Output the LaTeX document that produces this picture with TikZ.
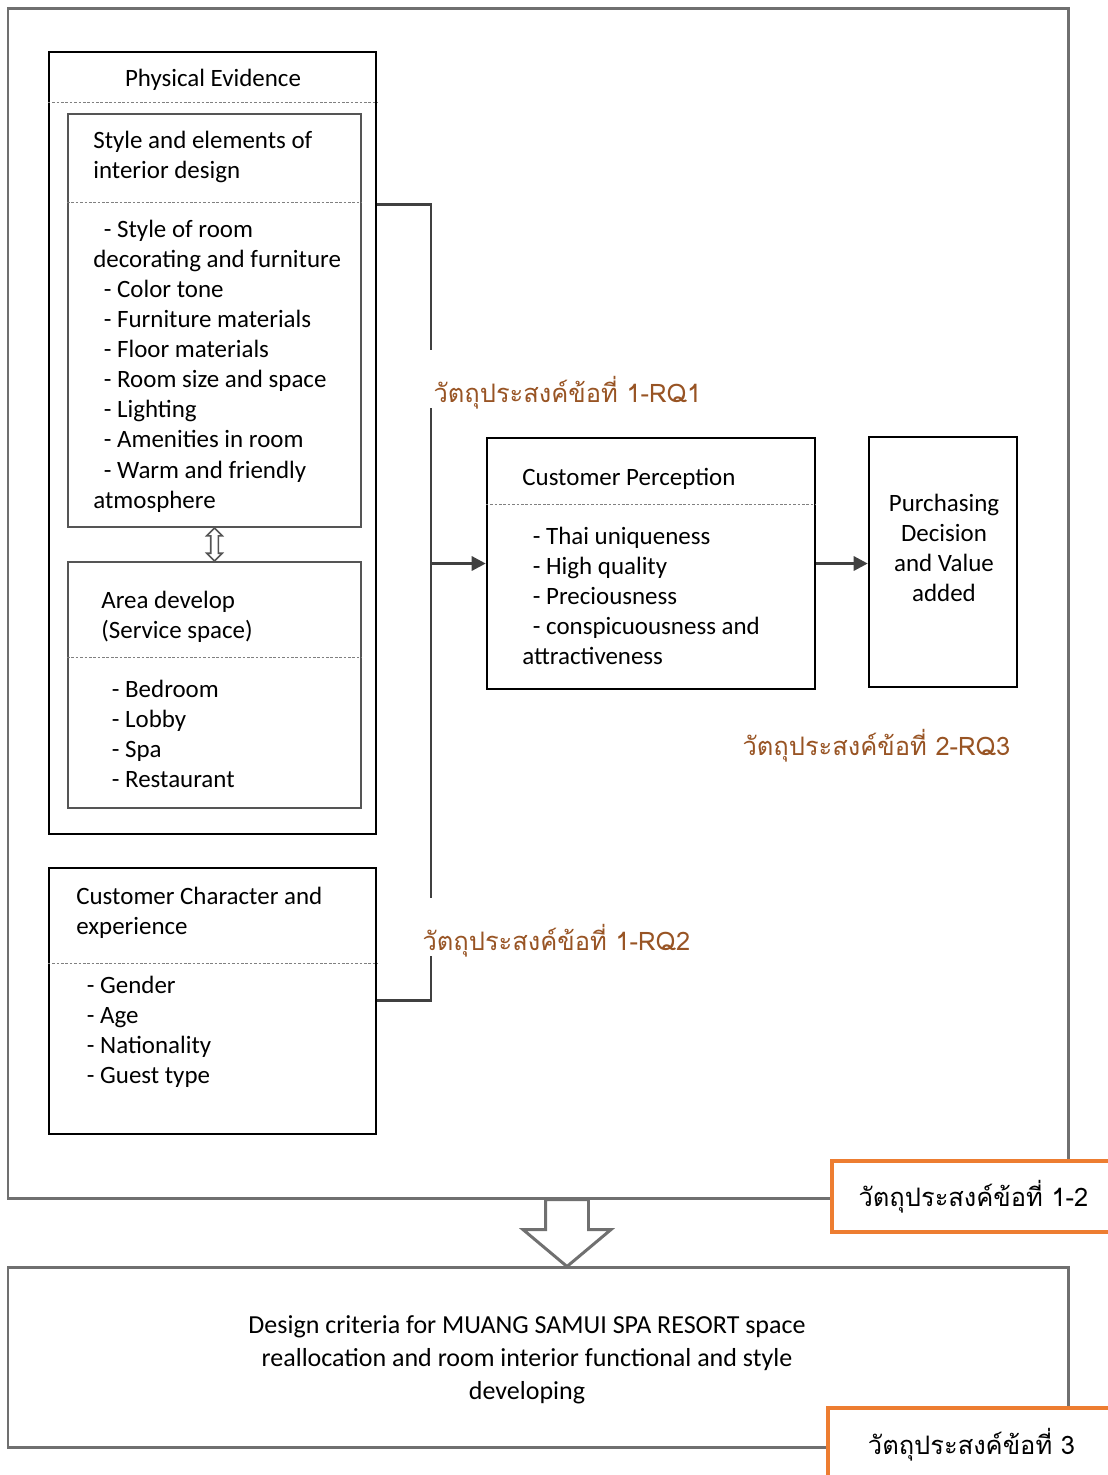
\documentclass[tikz,border=0pt]{standalone}
\usepackage{fontspec}
\setmainfont{Carlito}
\newfontfamily\thaifont[Script=Thai]{Loma}
\usetikzlibrary{positioning,fit,calc,arrows.meta,shapes.arrows}
\definecolor{framegray}{RGB}{112,112,112}
\definecolor{boxgray}{RGB}{85,85,85}
\definecolor{linkgray}{RGB}{64,64,64}
\definecolor{rqbrown}{RGB}{152,84,36}
\definecolor{objorange}{RGB}{237,125,49}
\newcommand{\itm}{\hspace*{6pt}- }
\begin{document}
\begin{tikzpicture}[x=0.02cm,y=-0.02cm,
                box/.style={draw=black,line width=1.4pt,inner sep=0pt},
                subbox/.style={draw=boxgray,line width=1.2pt,inner sep=0pt},
                frame/.style={draw=framegray,line width=1.7pt,inner sep=0pt},
                sep/.style={draw=gray,line width=0.5pt,dash pattern=on 1.5pt off 1pt},
                txt/.style={anchor=north west,align=left,inner sep=0pt,font=\fontsize{14.2}{17.1}\selectfont},
                rq/.style={anchor=base west,fill=white,text=rqbrown,font=\thaifont\fontsize{14.5}{18}\selectfont,
                           inner xsep=3pt,inner ysep=3.5pt,text height=26pt,text depth=0pt},
                obj/.style={draw=objorange,line width=2.3pt,fill=white,inner sep=0pt,font=\thaifont\fontsize{14.5}{18}\selectfont},
                link/.style={draw=linkgray,line width=1.7pt},
                arr/.style={link,-{Triangle[length=8pt,width=8pt]}},
                dblarrow/.style={double arrow,draw=boxgray,fill=white,line width=0.9pt,rotate=90,minimum height=0.66cm,
                                 inner xsep=0pt,inner ysep=0.06cm,double arrow head extend=0.08cm},
                bigarrow/.style={single arrow,draw=framegray,fill=white,line width=1.7pt,rotate=-90,minimum height=1.34cm,
                                 inner xsep=0pt,inner ysep=0.4cm,single arrow head extend=0.45cm,single arrow tip angle=100}]
                \useasboundingbox (0,0) rectangle (1108,1475);
                \node[frame, fit={(8,8) (1068,1198)}] (top) {};
                \node[frame, fit={(8,1267) (1068,1447)}] (bottom) {};
                \node[box, fit={(49,52) (376,834)}] (pe) {};
                \node[subbox, fit={(68,114) (361,527)}] (style) {};
                \node[subbox, fit={(68,562) (361,808)}] (area) {};
                \node[box, fit={(49,868) (376,1134)}] (cc) {};
                \node[box, fit={(487,438) (815,689)}] (cp) {};
                \node[box, fit={(869,437) (1017,687)}] (pd) {};
                \draw[sep] (pe.west |- 0,102) -- (pe.east |- 0,102);
                \draw[sep] (style.west |- 0,202) -- (style.east |- 0,202);
                \draw[sep] (area.west |- 0,657) -- (area.east |- 0,657);
                \draw[sep] (cc.west |- 0,963) -- (cc.east |- 0,963);
                \draw[sep] (cp.west |- 0,504) -- (cp.east |- 0,504);
                \node[font=\fontsize{14.2}{17.1}\selectfont] (pe title) at (213,80) {Physical Evidence};
                \node[txt] (style title) at (93,131) {Style and elements of\\interior design};
                \node[txt] (style list) at (93,220) {\itm Style of room\\decorating and furniture\\\itm Color tone\\\itm Furniture materials\\\itm Floor materials\\\itm Room size and space\\\itm Lighting\\\itm Amenities in room\\\itm Warm and friendly\\atmosphere};
                \node[txt] (area title) at (101,591) {Area develop\\(Service space)};
                \node[txt] (area list) at (101,680) {\itm Bedroom\\\itm Lobby\\\itm Spa\\\itm Restaurant};
                \node[txt] (cc title) at (76,887) {Customer Character and\\experience};
                \node[txt] (cc list) at (76,976) {\itm Gender\\\itm Age\\\itm Nationality\\\itm Guest type};
                \node[txt] (cp title) at (522,468) {Customer Perception};
                \node[txt] (cp list) at (522,527) {\itm Thai uniqueness\\\itm High quality\\\itm Preciousness\\\itm conspicuousness and\\attractiveness};
                \node[align=center,font=\fontsize{14.2}{17.1}\selectfont] (pd text) at (944,548) {Purchasing\\Decision\\and Value\\added};
                \node[align=center,font=\fontsize{14.8}{18.8}\selectfont] (bottom text) at (527,1360) {Design criteria for MUANG SAMUI SPA RESORT space\\reallocation and room interior functional and style\\developing};
                \node[dblarrow] (swap) at ($(style.south)!0.5!(area.north)$) {};
                \coordinate (bus top) at (431,204);
                \coordinate (bus bot) at (431,1000);
                \draw[link] (pe.east |- bus top) -- (bus top) -- (bus bot) -- (cc.east |- bus bot);
                \draw[arr] (bus top |- cp.west) -- (cp.west);
                \draw[arr] (cp.east) -- (cp.east -| pd.west);
                \node[rq] (rq1) at (428,402) {วัตถุประสงค์ข้อที่ 1-RQ1};
                \node[rq] (rq2) at (417,950) {วัตถุประสงค์ข้อที่ 1-RQ2};
                \node[rq] (rq3) at (737,755) {วัตถุประสงค์ข้อที่ 2-RQ3};
                \node[bigarrow, anchor=tail] (down) at (567,1198) {};
                \node[obj, minimum width=5.66cm, minimum height=1.42cm] (obj12) at (973.5,1196.5) {วัตถุประสงค์ข้อที่ 1-2};
                \node[obj, minimum width=5.74cm, minimum height=1.48cm] (obj3) at (971.5,1445) {วัตถุประสงค์ข้อที่ 3};
\end{tikzpicture}
\end{document}
